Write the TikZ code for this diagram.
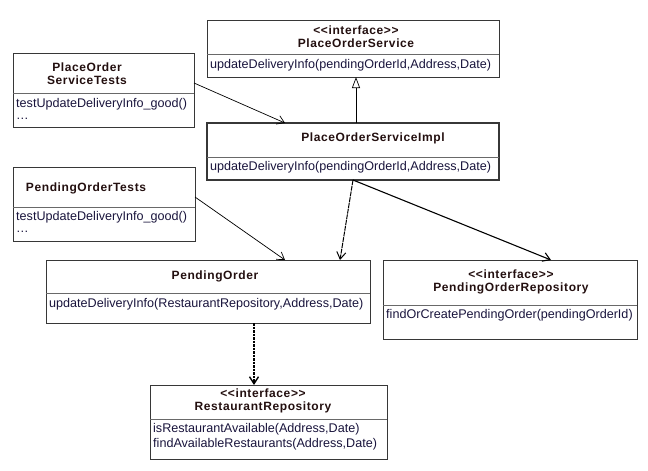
\documentclass[tikz,border=0pt]{standalone}
\usepackage{fontspec}
\setmainfont{Liberation Sans}[Ligatures=TeXOff]
\newfontfamily\spaced{Liberation Sans}[Ligatures=TeXOff,LetterSpace=5]
\usetikzlibrary{arrows.meta}
\definecolor{boxline}{RGB}{55,55,55}
\definecolor{sepline}{RGB}{105,105,105}
\definecolor{titletext}{RGB}{35,15,15}
\definecolor{methodtext}{RGB}{25,20,60}

\tikzset{
  classbox/.style={draw=boxline, line width=0.9pt, anchor=north west, inner sep=0pt, outer sep=0pt},
  divider/.style={draw=sepline, line width=0.7pt},
  title/.style={align=center, text=titletext, inner sep=0pt, font=\spaced\bfseries\fontsize{12}{12.8}\selectfont},
  method/.style={anchor=west, align=left, text=methodtext, inner sep=0pt, font=\fontsize{12.6}{14}\selectfont},
  uses/.style={-{Straight Barb[length=7pt,width=9pt]}, line width=0.7pt},
  realizes/.style={-{Triangle[open,fill=white,length=11pt,width=8pt]}, line width=0.7pt}
}

\begin{document}
\begin{tikzpicture}[x=1pt, y=-1pt]
  \useasboundingbox (0,0) rectangle (648,471);

  % PlaceOrderService
  \node[classbox, minimum width=292pt, minimum height=57pt] (pos) at (207,20) {};
  \draw[divider] (207,54) -- (499,54);
  \node[title] (posT) at (356,36.5) {\textless\textless interface\textgreater\textgreater\\PlaceOrderService};
  \node[method] (posM) at (210,65.5) {updateDeliveryInfo(pendingOrderId,Address,Date)};

  % PlaceOrderServiceImpl
  \node[classbox, line width=1.8pt, minimum width=292pt, minimum height=57pt] (posi) at (207,123) {};
  \draw[divider] (207,157) -- (499,157);
  \node[title] (posiT) at (373,138.5) {PlaceOrderServiceImpl};
  \node[method] (posiM) at (210,167) {updateDeliveryInfo(pendingOrderId,Address,Date)};

  % PlaceOrderServiceTests
  \node[classbox, minimum width=181pt, minimum height=74pt] (post) at (13,53) {};
  \draw[divider] (13,93) -- (194,93);
  \node[title] (postT) at (87,74) {PlaceOrder\\ServiceTests};
  \node[method, anchor=north west, font=\fontsize{12.6}{12.5}\selectfont] (postM) at (16,98) {testUpdateDeliveryInfo\_good()\\\dots};

  % PendingOrderTests
  \node[classbox, minimum width=182pt, minimum height=74pt] (pot) at (13,167) {};
  \draw[divider] (13,207) -- (195,207);
  \node[title] (potT) at (86,188) {PendingOrderTests};
  \node[method, anchor=north west, font=\fontsize{12.6}{12.5}\selectfont] (potM) at (16,211) {testUpdateDeliveryInfo\_good()\\\dots};

  % PendingOrder
  \node[classbox, minimum width=324pt, minimum height=63pt] (po) at (46,260) {};
  \draw[divider] (46,293) -- (370,293);
  \node[title] (poT) at (215,276) {PendingOrder};
  \node[method] (poM) at (49,304) {updateDeliveryInfo(RestaurantRepository,Address,Date)};

  % PendingOrderRepository
  \node[classbox, minimum width=254pt, minimum height=79pt] (por) at (383,260) {};
  \draw[divider] (383,305) -- (637,305);
  \node[title] (porT) at (511,282) {\textless\textless interface\textgreater\textgreater\\PendingOrderRepository};
  \node[method] (porM) at (386,315.5) {findOrCreatePendingOrder(pendingOrderId)};

  % RestaurantRepository
  \node[classbox, minimum width=237pt, minimum height=74pt] (rr) at (150,385) {};
  \draw[divider] (150,419) -- (387,419);
  \node[title] (rrT) at (263,401) {\textless\textless interface\textgreater\textgreater\\RestaurantRepository};
  \node[method, anchor=north west, font=\fontsize{12.6}{15.5}\selectfont] (rrM) at (153,423) {isRestaurantAvailable(Address,Date)\\findAvailableRestaurants(Address,Date)};

  % connectors
  \draw[realizes] ([xshift=3pt]posi.north) -- ([xshift=3pt]pos.south);
  \draw[uses] ([yshift=7pt]post.east) -- ([xshift=-68pt]posi.north);
  \draw[uses] ([yshift=7pt]pot.east) -- ([xshift=77pt]po.north);
  \draw[uses, line width=1pt, dash pattern=on 5pt off 0.8pt] (posi.south) -- ([xshift=132pt]po.north);
  \draw[uses, line width=1.1pt] (posi.south) -- ([xshift=41pt]por.north);
  \draw[uses, line width=1.4pt, dash pattern=on 2.5pt off 1pt] ([xshift=46pt]po.south) -- ([xshift=-14.5pt]rr.north);
\end{tikzpicture}
\end{document}
